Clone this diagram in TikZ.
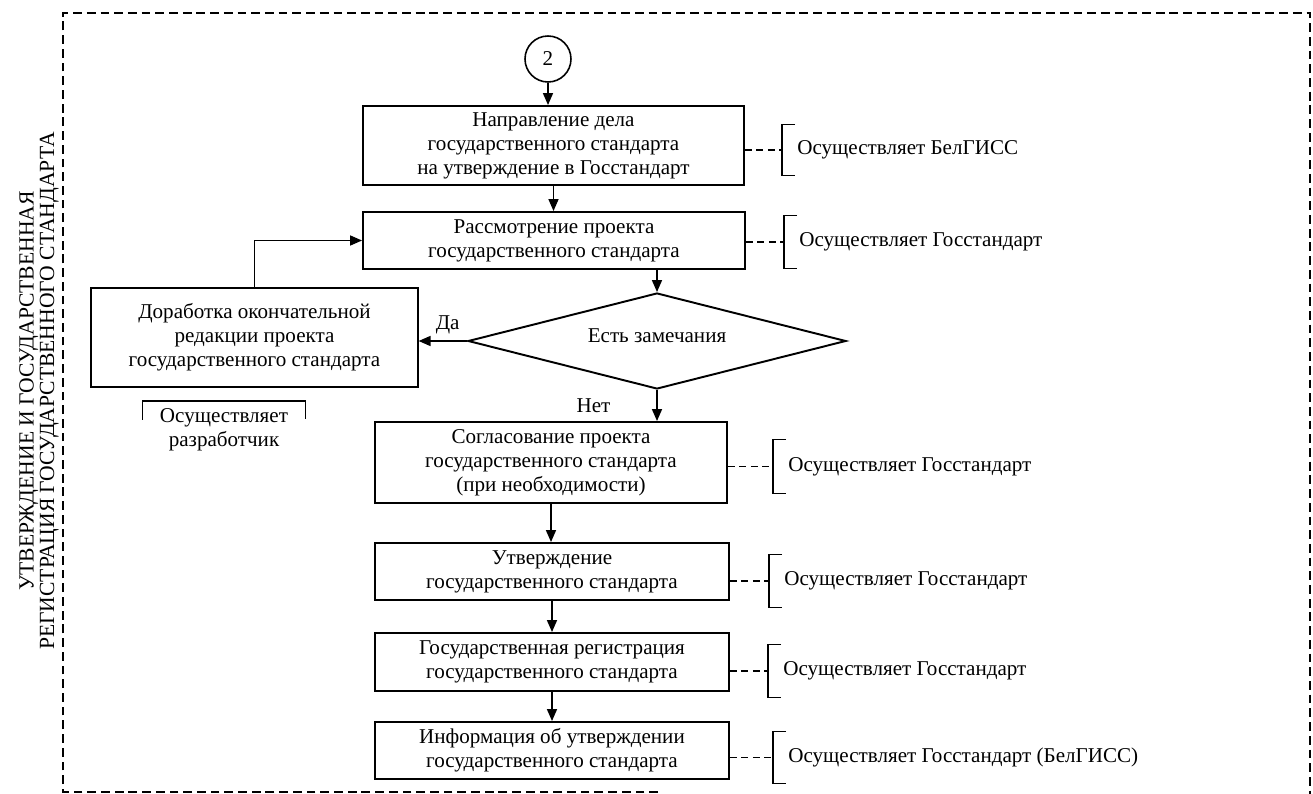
\documentclass[tikz,border=0pt]{standalone}
\usepackage{fontspec}
\setmainfont{Liberation Serif}
\usetikzlibrary{shapes.geometric,arrows.meta}

\begin{document}
\begin{tikzpicture}[x=0.02cm, y=-0.02cm, font=\fontsize{12}{13.6}\selectfont,
		>={Triangle[length=0.24cm,width=0.2cm]},
		stage/.style={draw, line width=1.1pt, align=center, inner sep=0pt},
		who/.style={anchor=west, align=left, inner xsep=0.3cm, inner ysep=0pt},
		tie/.style={dash pattern=on 4pt off 2.5pt, line width=0.6pt},
		brk/.style={line width=0.6pt}]
			\useasboundingbox (0,0) rectangle (1313,794);

			% Frame and side title
			\draw[dash pattern=on 5pt off 2.8pt, line width=0.6pt] (658,792) -- (63,792) -- (63,13) -- (1310,13) -- (1310,794);
			\node[rotate=90, align=center, font=\fontsize{12.3}{10.6}\selectfont] (title) at (39,391)
				{УТВЕРЖДЕНИЕ И ГОСУДАРСТВЕННАЯ\\РЕГИСТРАЦИЯ ГОСУДАРСТВЕННОГО СТАНДАРТА};

			% Main column
			\node[circle, draw, line width=0.9pt, minimum size=0.92cm, inner sep=0pt] (c2) at (548,59) {2};
			\node[stage, minimum width=7.62cm, minimum height=1.58cm] (b1) at (553.5,145.5)
				{Направление дела\\государственного стандарта\\на утверждение в Госстандарт};
			\node[stage, minimum width=7.64cm, minimum height=1.14cm] (b2) at (554,240.5)
				{Рассмотрение проекта\\государственного стандарта};
			\node[diamond, aspect=3.9, draw, line width=1.1pt, minimum width=7.56cm, minimum height=1.92cm, inner sep=0pt] (dia) at (657,341)
				{\raisebox{0.22cm}{Есть замечания}};
			\node[stage, line width=0.7pt, minimum width=6.54cm, minimum height=1.98cm] (bl) at (254.5,337.5)
				{Доработка окончательной\\редакции проекта\\государственного стандарта};
			\node[stage, minimum width=7.04cm, minimum height=1.62cm] (b4) at (551,462.5)
				{Согласование проекта\\государственного стандарта\\(при необходимости)};
			\node[stage, minimum width=7.08cm, minimum height=1.14cm] (b5) at (552,571.5)
				{Утверждение\\государственного стандарта};
			\node[stage, minimum width=7.08cm, minimum height=1.16cm] (b6) at (552,662)
				{Государственная регистрация\\государственного стандарта};
			\node[stage, minimum width=7.08cm, minimum height=1.14cm] (b7) at (552,750.5)
				{Информация об утверждении\\государственного стандарта};

			% Who does it
			\node[who, minimum height=1.0cm] (o1) at (782,150) {Осуществляет БелГИСС};
			\node[who, minimum height=1.04cm] (o2) at (784,242) {Осуществляет Госстандарт};
			\node[who, minimum height=1.06cm] (o4) at (773,466.5) {Осуществляет Госстандарт};
			\node[who, minimum height=1.04cm] (o5) at (769,581) {Осуществляет Госстандарт};
			\node[who, minimum height=1.04cm] (o6) at (768,671) {Осуществляет Госстандарт};
			\node[who, minimum height=1.02cm] (o7) at (773,757.5) {Осуществляет Госстандарт (БелГИСС)};
			\node[anchor=north, align=center, minimum width=3.24cm, inner ysep=4pt] (dev) at (224,401)
				{Осуществляет\\разработчик};

			\foreach \n/\b in {o1/b1,o2/b2,o4/b4,o5/b5,o6/b6,o7/b7} {
				\draw[brk] ([xshift=0.26cm]\n.north west) -- (\n.north west) -- (\n.south west) -- ++(13,0);
				\draw[tie] (\n.west -| \b.east) -- (\n.west);
			}
			\draw[brk] ([yshift=-0.38cm]dev.north west) -- (dev.north west) -- (dev.north east) -- ++(0,18);

			% Flow
			\draw[->, line width=0.9pt] (c2) -- (c2.south |- b1.north);
			\draw[->, line width=0.9pt] (b1.south) -- (b1.south |- b2.north);
			\draw[->, line width=0.9pt] (b2.south -| dia.north) -- (dia.north);
			\draw[->, line width=0.9pt] (dia.west) -- node[pos=0.4, above] {Да} (dia.west -| bl.east);
			\draw[->, line width=0.9pt] (dia.south) -- node[left=0.8cm] {Нет} (dia.south |- b4.north);
			\draw[->, line width=0.9pt] (bl.north) |- (b2.west);
			\draw[->, line width=0.9pt] (b4.south) -- (b4.south |- b5.north);
			\draw[->, line width=0.9pt] (b5.south) -- (b5.south |- b6.north);
			\draw[->, line width=0.9pt] (b6.south) -- (b6.south |- b7.north);
		\end{tikzpicture}
\end{document}
